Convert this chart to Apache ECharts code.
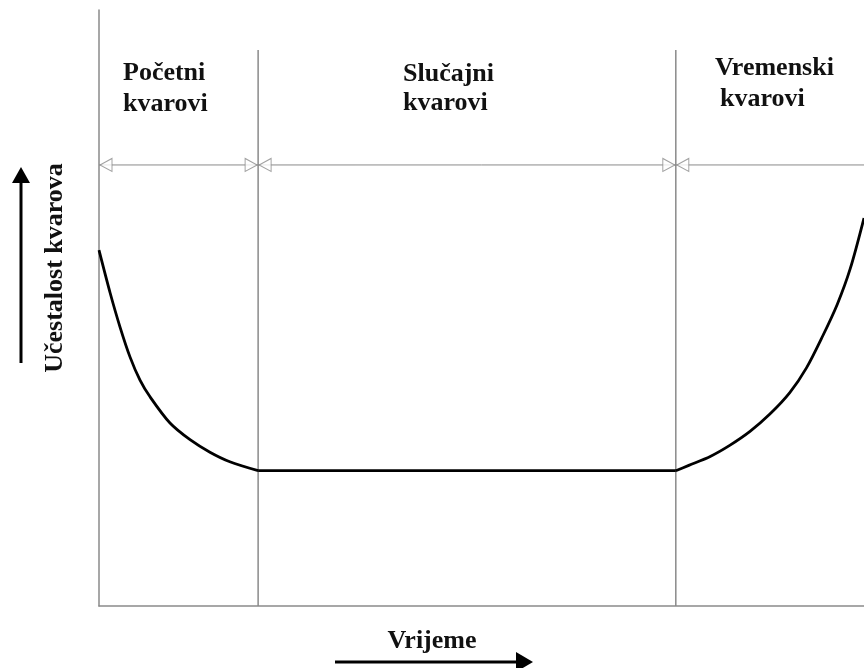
<!DOCTYPE html>
<html>
<head>
<meta charset="utf-8">
<script src="https://cdn.jsdelivr.net/npm/echarts@6/dist/echarts.min.js"></script>
<style>html,body{margin:0;padding:0;background:#fff}#c{width:864px;height:668px}</style>
</head>
<body>
<div id="c"></div>
<script>
// Phase boundaries on the time axis (0..100)
const phaseBoundaries = [0, 20.8, 75.4, 100];
const phaseArrowLevel = 74.0;
const boundaryTop = 93.3;
// Early failures (decreasing)
const earlyX = [0, 1.44, 2.75, 4.05, 5.36, 6.67, 9.28, 11.9, 14.5, 17.1, 20.8];
const earlyY = [59.7, 52.6, 46.8, 41.8, 37.9, 35.1, 30.7, 27.9, 25.8, 24.2, 22.7];
// Random failures (constant)
const randomX = [20.8, 75.4];
const randomY = [22.7, 22.7];
// Wear-out failures (increasing)
const wearX = [75.4, 77.1, 79.9, 82.5, 85.1, 87.7, 90.3, 92.5, 94.6, 96.5, 98.2, 100];
const wearY = [22.7, 23.6, 25.1, 27.0, 29.3, 32.2, 35.8, 40.0, 45.3, 50.6, 56.6, 65.1];
const phaseLabels = [['Početni', 'kvarovi'], ['Slučajni', 'kvarovi'], ['Vremenski', 'kvarovi']];
const yTitle = 'Učestalost kvarova';
const xTitle = 'Vrijeme';

const zip = (xs, ys) => xs.map((x, i) => [x, ys[i]]);
const GRAY = '#8a8a8a';
const FONT = 'bold 26px "Liberation Serif", "Times New Roman", serif';

const chart = echarts.init(document.getElementById('c'), null, {renderer: 'canvas'});

const curveStyle = {color: '#000', width: 2.8};
const curveSeries = [zip(earlyX, earlyY), zip(randomX, randomY), zip(wearX, wearY)].map(d => ({
  type: 'line', data: d, smooth: 0.3, symbol: 'none',
  lineStyle: curveStyle, z: 5, silent: true, clip: false
}));

// vertical boundary lines
const boundarySeries = phaseBoundaries.slice(1, 3).map(b => ({
  type: 'line', data: [[b, 0], [b, boundaryTop]], symbol: 'none',
  lineStyle: {color: GRAY, width: 1.5}, z: 2, silent: true
}));

// horizontal phase arrow line
const arrowLine = {
  type: 'line', data: [[0, phaseArrowLevel], [100, phaseArrowLevel]], symbol: 'none',
  lineStyle: {color: GRAY, width: 1}, z: 2, silent: true
};

// hollow arrowheads
const heads = [];
phaseBoundaries.slice(0, 3).forEach(b => {
  heads.push({value: [b, phaseArrowLevel], symbolRotate: 90, symbolOffset: [7, 0]});
});
phaseBoundaries.slice(1, 3).forEach(b => {
  heads.push({value: [b, phaseArrowLevel], symbolRotate: -90, symbolOffset: [-7, 0]});
});
const headSeries = {
  type: 'scatter', data: heads, symbol: 'triangle', symbolSize: [13, 12],
  itemStyle: {color: '#fff', borderColor: GRAY, borderWidth: 1}, z: 4, silent: true
};

const labelX = [123, 403, 715];
const labelX2 = [123, 403, 720];
const labelBase1 = [82, 83, 77];
const labelBase2 = [113, 112, 108];
const graphics = [];
phaseLabels.forEach((lines, i) => {
  graphics.push({type: 'text', x: labelX[i], y: labelBase1[i] - 9,
    style: {text: lines[0], font: FONT, fill: '#111', textAlign: 'left', textVerticalAlign: 'middle'}});
  graphics.push({type: 'text', x: labelX2[i], y: labelBase2[i] - 9,
    style: {text: lines[1], font: FONT, fill: '#111', textAlign: 'left', textVerticalAlign: 'middle'}});
});
// y title
graphics.push({type: 'text', x: 55, y: 268, rotation: Math.PI / 2,
  style: {text: yTitle, font: FONT, fill: '#111', textAlign: 'center', textVerticalAlign: 'middle'}});
// y arrow
graphics.push({type: 'line', shape: {x1: 21, y1: 363, x2: 21, y2: 178}, style: {stroke: '#000', lineWidth: 3}});
graphics.push({type: 'polygon', shape: {points: [[21, 167], [12, 183], [30, 183]]}, style: {fill: '#000'}});
// x title
graphics.push({type: 'text', x: 432, y: 641,
  style: {text: xTitle, font: FONT, fill: '#111', textAlign: 'center', textVerticalAlign: 'middle'}});
// x arrow
graphics.push({type: 'line', shape: {x1: 335, y1: 662, x2: 520, y2: 662}, style: {stroke: '#000', lineWidth: 3}});
graphics.push({type: 'polygon', shape: {points: [[533, 662], [516, 652], [516, 672]]}, style: {fill: '#000'}});

chart.setOption({
  animation: false,
  backgroundColor: '#fff',
  grid: {left: 99, right: 0, top: 10, bottom: 62, containLabel: false},
  xAxis: {type: 'value', min: 0, max: 100,
    axisLine: {show: true, lineStyle: {color: GRAY, width: 1.5}},
    axisTick: {show: false}, axisLabel: {show: false}, splitLine: {show: false}},
  yAxis: {type: 'value', min: 0, max: 100,
    axisLine: {show: true, lineStyle: {color: GRAY, width: 1.5}},
    axisTick: {show: false}, axisLabel: {show: false}, splitLine: {show: false}},
  series: [...boundarySeries, arrowLine, headSeries, ...curveSeries],
  graphic: graphics
});
</script>
</body>
</html>
